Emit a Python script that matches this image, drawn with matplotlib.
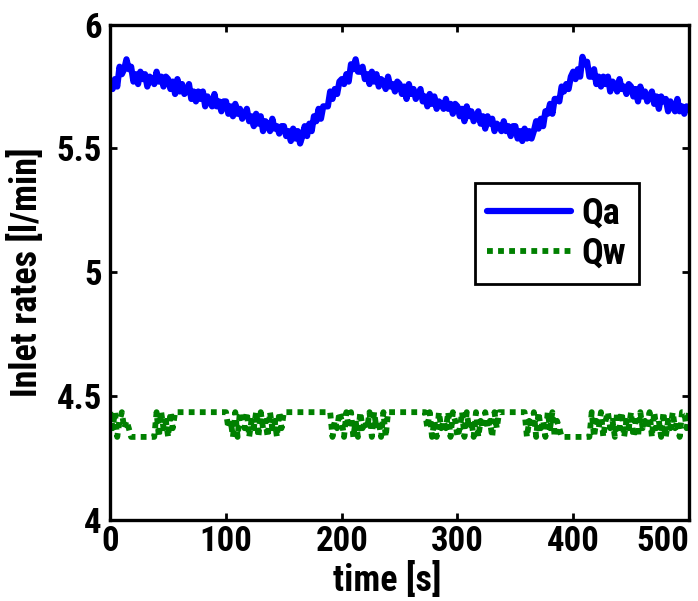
import numpy as np
import matplotlib
matplotlib.use('Agg')
import matplotlib.pyplot as plt

qa_time = np.arange(0, 501, 2)
qa_values = [
    5.77, 5.74, 5.78, 5.75, 5.83, 5.80, 5.82, 5.86, 5.82, 5.83,
    5.77, 5.80, 5.76, 5.81, 5.78, 5.80, 5.75, 5.79, 5.78, 5.76,
    5.81, 5.77, 5.79, 5.75, 5.79, 5.78, 5.74, 5.77, 5.72, 5.78,
    5.73, 5.76, 5.72, 5.73, 5.76, 5.70, 5.73, 5.69, 5.73, 5.70,
    5.73, 5.67, 5.71, 5.69, 5.67, 5.72, 5.67, 5.69, 5.65, 5.69,
    5.69, 5.64, 5.67, 5.63, 5.68, 5.64, 5.66, 5.62, 5.64, 5.66,
    5.61, 5.63, 5.59, 5.64, 5.60, 5.63, 5.57, 5.61, 5.60, 5.57,
    5.62, 5.58, 5.59, 5.56, 5.59, 5.59, 5.55, 5.57, 5.53, 5.58,
    5.54, 5.57, 5.52, 5.55, 5.59, 5.55, 5.60, 5.57, 5.63, 5.61,
    5.66, 5.62, 5.67, 5.67, 5.67, 5.73, 5.70, 5.74, 5.72, 5.77,
    5.78, 5.76, 5.80, 5.77, 5.84, 5.82, 5.86, 5.81, 5.81, 5.83,
    5.78, 5.80, 5.76, 5.81, 5.77, 5.80, 5.75, 5.78, 5.77, 5.74,
    5.79, 5.75, 5.76, 5.73, 5.77, 5.76, 5.72, 5.75, 5.70, 5.76,
    5.72, 5.74, 5.70, 5.72, 5.74, 5.69, 5.71, 5.67, 5.72, 5.68,
    5.71, 5.66, 5.69, 5.68, 5.66, 5.70, 5.66, 5.68, 5.64, 5.68,
    5.67, 5.63, 5.66, 5.61, 5.67, 5.63, 5.65, 5.61, 5.63, 5.65,
    5.60, 5.63, 5.58, 5.63, 5.60, 5.62, 5.57, 5.60, 5.59, 5.57,
    5.61, 5.57, 5.59, 5.55, 5.59, 5.59, 5.54, 5.57, 5.53, 5.58,
    5.54, 5.57, 5.54, 5.57, 5.61, 5.58, 5.62, 5.59, 5.65, 5.64,
    5.68, 5.64, 5.70, 5.70, 5.69, 5.75, 5.73, 5.76, 5.74, 5.79,
    5.81, 5.78, 5.82, 5.79, 5.87, 5.84, 5.85, 5.79, 5.79, 5.82,
    5.76, 5.79, 5.75, 5.79, 5.76, 5.79, 5.73, 5.77, 5.76, 5.73,
    5.78, 5.74, 5.75, 5.72, 5.76, 5.75, 5.71, 5.74, 5.69, 5.75,
    5.71, 5.73, 5.69, 5.71, 5.73, 5.68, 5.71, 5.66, 5.71, 5.69,
    5.70, 5.65, 5.69, 5.67, 5.65, 5.70, 5.65, 5.67, 5.64, 5.67,
    5.66,
]

# Qw inlet rate, sampled every 2 s; it only takes a few quantised levels
qw_time = np.arange(0, 501, 2)
qw_levels = [4.335, 4.37, 4.40, 4.435]
qw_codes = (
    "3130231"
    "2100000000000"
    "303120313"
    "333333333333333333333"
    "31203" "03213" "02130" "31203" "12031"
    "33333333333333333333"
    "30213" "20313" "02031" "21303" "12030"
    "3333333333333333"
    "31302" "03121" "30320" "13031" "20302" "13120" "313"
    "3333333333"
    "30213" "03120" "31302" "1"
    "0000000000000"
    "30213" "02312" "03130" "21302" "03121" "30312" "03021" "31203" "313"
)
qw_values = [qw_levels[int(c)] for c in qw_codes]

x_ticks = [0, 100, 200, 300, 400, 500]
y_ticks = [4, 4.5, 5, 5.5, 6]
y_tick_labels = ['4', '4.5', '5', '5.5', '6']

font = ['Roboto Condensed', 'Liberation Sans', 'DejaVu Sans']
fsize = 25

fig = plt.figure(figsize=(6.98, 6.01), dpi=100)
ax = fig.add_axes([0.158, 0.135, 0.829, 0.824])

ax.plot(qa_time, qa_values, color='#0000ff', lw=4.5, label='Qa',
        solid_joinstyle='round', solid_capstyle='round')
ax.plot(qw_time, qw_values, color='#008000', lw=4.2, linestyle=(0, (1, 0.9)),
        label='Qw')

ax.set_xlim(0, 500)
ax.set_ylim(4, 6)
ax.set_xticks(x_ticks)
ax.set_yticks(y_ticks)
ax.set_yticklabels(y_tick_labels)
ax.tick_params(direction='in', length=5, width=2, top=True, right=True,
               labelsize=fsize)
ax.tick_params(axis='x', pad=4)
ax.tick_params(axis='y', pad=6)
for lab in ax.get_xticklabels() + ax.get_yticklabels():
    lab.set_family(font)
    lab.set_fontweight('bold')
ax.get_xticklabels()[-1].set_horizontalalignment('right')
for sp in ax.spines.values():
    sp.set_linewidth(2.4)

ax.set_xlabel('time [s]', family=font, fontweight='bold', fontsize=fsize + 1,
              labelpad=0)
ax.xaxis.set_label_coords(0.478, -0.085)
ax.set_ylabel('Inlet rates [l/min]', family=font, fontweight='bold',
              fontsize=fsize + 1, labelpad=8)

leg = ax.legend(loc='upper left', bbox_to_anchor=(0.63, 0.68),
                prop={'family': font, 'weight': 'bold', 'size': fsize + 1},
                handlelength=2.3, handletextpad=0.3, labelspacing=0.1,
                borderpad=0.35, borderaxespad=0, fancybox=False,
                framealpha=1, edgecolor='black')
leg.get_frame().set_linewidth(2)

fig.savefig('out.png', dpi=100)
